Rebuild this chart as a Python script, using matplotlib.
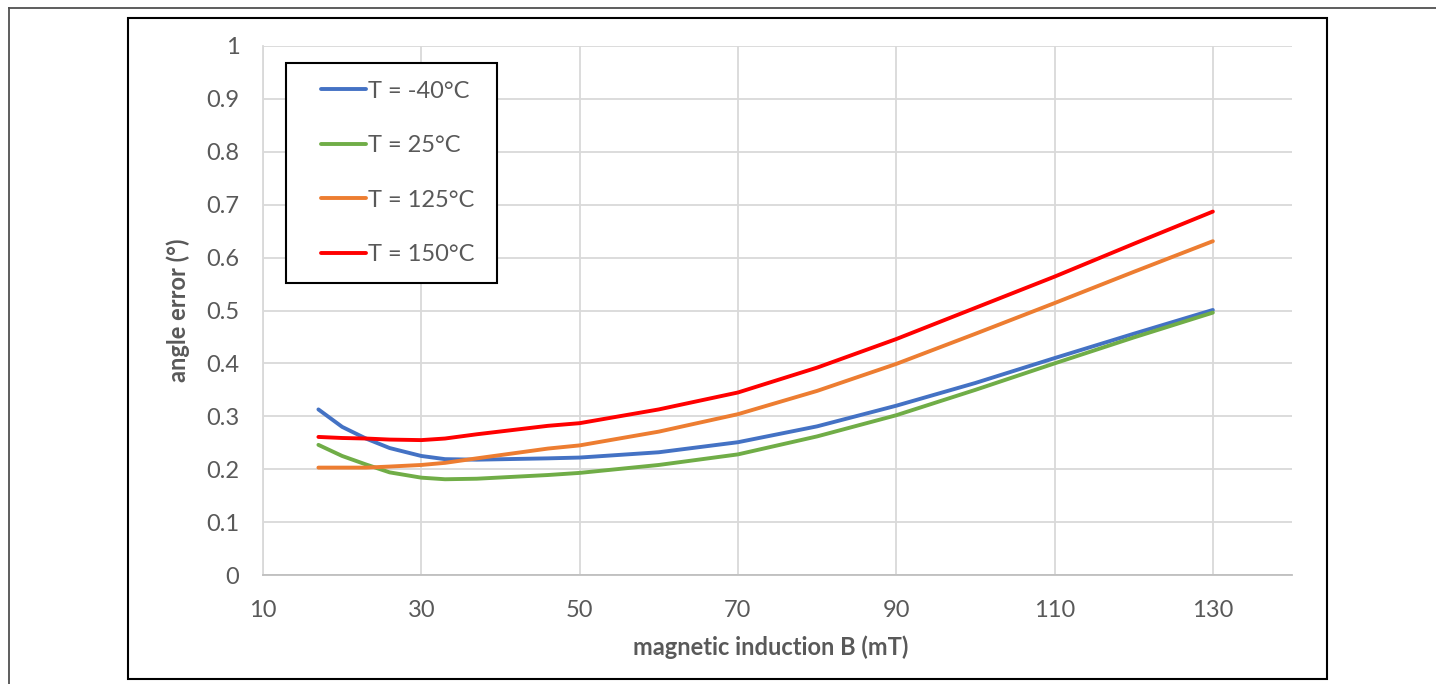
import numpy as np
import matplotlib
matplotlib.use("Agg")
import matplotlib.pyplot as plt
from matplotlib.lines import Line2D
from matplotlib.patches import Rectangle
from matplotlib.legend_handler import HandlerLine2D

# ---- data ----
B = [17, 20, 23, 26, 30, 33, 37, 46, 50, 60, 70, 80, 90, 100, 110, 120, 130]
err_m40 = [0.313, 0.280, 0.258, 0.240, 0.225, 0.219, 0.218, 0.2205, 0.222, 0.232, 0.251, 0.281, 0.320, 0.363, 0.410, 0.456, 0.501]
err_25 = [0.246, 0.225, 0.209, 0.194, 0.184, 0.181, 0.182, 0.189, 0.193, 0.208, 0.228, 0.262, 0.302, 0.350, 0.400, 0.449, 0.496]
err_125 = [0.203, 0.203, 0.203, 0.205, 0.208, 0.212, 0.2205, 0.239, 0.245, 0.271, 0.304, 0.348, 0.399, 0.456, 0.514, 0.573, 0.631]
err_150 = [0.261, 0.259, 0.258, 0.256, 0.255, 0.258, 0.266, 0.282, 0.287, 0.313, 0.345, 0.392, 0.446, 0.505, 0.564, 0.626, 0.687]
labels = ["T = -40°C", "T = 25°C", "T = 125°C", "T = 150°C"]
colors = ["#4472C4", "#70AD47", "#ED7D31", "#FF0000"]
x_ticks = [10, 30, 50, 70, 90, 110, 130]
y_ticks = [0, 0.1, 0.2, 0.3, 0.4, 0.5, 0.6, 0.7, 0.8, 0.9, 1]
y_tick_labels = ["0", "0.1", "0.2", "0.3", "0.4", "0.5", "0.6", "0.7", "0.8", "0.9", "1"]

plt.rcParams['font.family'] = ['Lato', 'DejaVu Sans']
FS = 17
GREY = "#595959"

W, H = 1436, 684
fig = plt.figure(figsize=(W / 100, H / 100), dpi=100)
fig.patch.set_facecolor("white")

def fx(px):
    return px / W

def fy(py):
    return 1 - py / H

ax = fig.add_axes([fx(263), fy(575), fx(1292) - fx(263), fy(46) - fy(575)])

series = [err_m40, err_25, err_125, err_150]
for ys, lab, c in zip(series, labels, colors):
    ax.plot(B, ys, color=c, lw=2.8, label=lab, solid_capstyle="round",
            solid_joinstyle="round", zorder=3)

ax.set_xlim(10, 140)
ax.set_ylim(0, 1)
ax.set_xticks(x_ticks)
ax.set_xticklabels([str(t) for t in x_ticks])
ax.set_yticks(y_ticks)
ax.set_yticklabels(y_tick_labels)
ax.tick_params(axis="both", length=0, labelsize=FS, labelcolor=GREY)
ax.tick_params(axis="x", pad=18)
ax.tick_params(axis="y", pad=17)
ax.grid(True, color="#d9d9d9", lw=1.3, zorder=0)
ax.set_axisbelow(True)
for s in ["top", "right"]:
    ax.spines[s].set_visible(False)
ax.spines["left"].set_color("#d9d9d9")
ax.spines["left"].set_linewidth(1.3)
ax.spines["bottom"].set_color("#bfbfbf")
ax.spines["bottom"].set_linewidth(1.3)

ax.set_xlabel("magnetic induction B (mT)", fontsize=FS, fontweight="bold", color=GREY)
ax.set_ylabel("angle error (°)", fontsize=FS, fontweight="bold", color=GREY)
ax.xaxis.set_label_coords((771 - 263) / 1029, (575 - 635) / 529)
ax.yaxis.set_label_coords((190 - 263) / 1029, 0.5)


class ShiftedLine(HandlerLine2D):
    def __init__(self, shift, **kw):
        super().__init__(**kw)
        self.shift = shift

    def create_artists(self, legend, orig_handle, xdescent, ydescent, width,
                       height, fontsize, trans):
        arts = super().create_artists(legend, orig_handle, xdescent, ydescent,
                                      width, height, fontsize, trans)
        a = arts[0]
        xd = np.asarray(a.get_xdata(), float)
        a.set_xdata(np.linspace(xd[0] + self.shift, xd[-1], len(xd)))
        a.set_solid_capstyle("round")
        return arts


bp = 0.745
shift_pt = 25.2 - bp * FS
handlelen = (32.4 + shift_pt) / FS
x0 = (286 - 263) / 1029
wdt = (497 - 286) / 1029
top = (575 - 63) / 529
handles = ax.get_lines()
leg = ax.legend(handles=handles, loc="upper left", mode="expand",
                bbox_to_anchor=(x0, 0.0, wdt, top), borderaxespad=0,
                fontsize=FS, labelcolor=GREY, frameon=True, fancybox=False,
                borderpad=bp, labelspacing=1.42, handlelength=handlelen,
                handletextpad=0.1,
                handler_map={h: ShiftedLine(shift_pt) for h in handles})
leg.get_frame().set_edgecolor("black")
leg.get_frame().set_linewidth(1.5)
leg.get_frame().set_alpha(1)

# outer frames
fig.add_artist(Line2D([fx(9), 1.0], [fy(8), fy(8)], transform=fig.transFigure,
                      color="#505050", lw=1.3))
fig.add_artist(Line2D([fx(9), fx(9)], [fy(8), 0.0], transform=fig.transFigure,
                      color="#505050", lw=1.3))
fig.add_artist(Rectangle((fx(128), fy(679)), fx(1327) - fx(128), fy(18) - fy(679),
                         transform=fig.transFigure, fill=False,
                         edgecolor="black", lw=1.5))

fig.savefig("out.png", dpi=100, facecolor="white")
